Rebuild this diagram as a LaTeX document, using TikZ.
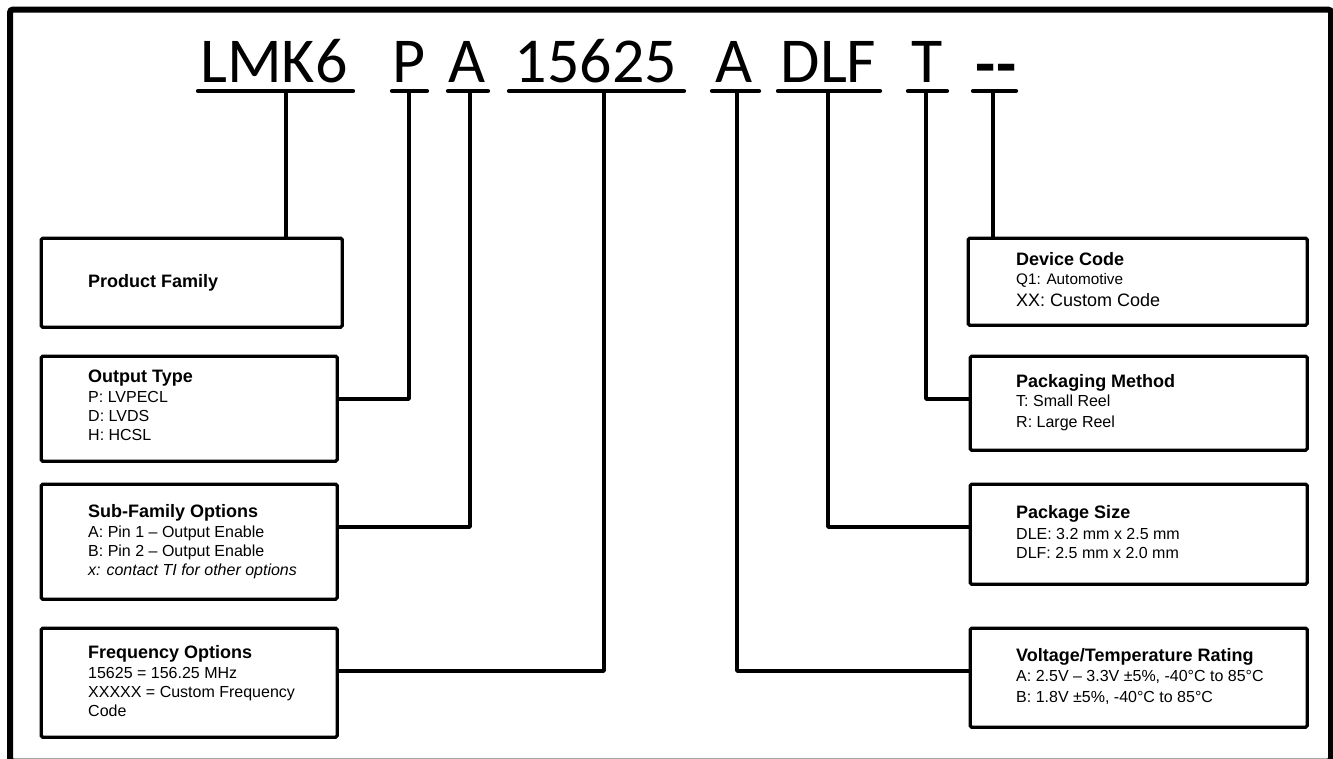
\documentclass[tikz,border=0pt]{standalone}
\usepackage{fontspec}
\setmainfont{Liberation Sans}
\newfontfamily\codefont{Carlito}
\begin{document}
\begin{tikzpicture}[x=1pt,y=-1pt,
  box/.style={draw, line width=3.2pt, rounded corners=1.5pt, inner sep=0pt, anchor=north west},
  conn/.style={line width=3.8pt, line join=round},
  uline/.style={line width=4.2pt, line cap=round},
  code/.style={font=\codefont\fontsize{64}{77}\selectfont, inner sep=0pt, anchor=base},
  ttl/.style={font=\bfseries\fontsize{18}{21}\selectfont, inner sep=0pt, anchor=base west},
  txt/.style={font=\fontsize{16}{19}\selectfont, inner sep=0pt, anchor=base west}]
\clip (0,0) rectangle (1333,758);
\useasboundingbox (0,0) rectangle (1333,758);
% frame
\draw[line width=6pt, rounded corners=3pt] (10,9.5) rectangle (1331,761.5);
% code
\node[code] (cL) at (274,82) {LMK6};
\node[code] (cP) at (409,82) {P};
\node[code] (cA) at (467.5,82) {A};
\node[code] (cF) at (596,82) {15625};
\node[code] (cV) at (734.5,82) {A};
\node[code] (cS) at (828.5,82) {DLF};
\node[code] (cT) at (927,82) {T};
\node[code, font=\codefont\bfseries\fontsize{66}{78}\selectfont] (cD) at (996,86) {-{}-};
% underlines
\draw[uline] (198,91) -- (353,91);
\draw[uline] (392,91) -- (427,91);
\draw[uline] (448,91) -- (488,91);
\draw[uline] (509,91) -- (684,91);
\draw[uline] (712,91) -- (759,91);
\draw[uline] (778,91) -- (880,91);
\draw[uline] (908,91) -- (947,91);
\draw[uline] (973,91) -- (1016,91);
\coordinate (uL) at (286,91);
\coordinate (uP) at (409,91);
\coordinate (uA) at (470,91);
\coordinate (uF) at (604,91);
\coordinate (uV) at (737,91);
\coordinate (uS) at (828,91);
\coordinate (uT) at (926,91);
\coordinate (uD) at (993,91);
% boxes
\node[box, minimum width=301pt, minimum height=89pt] (pf) at (39.6,236.6) {};
\node[box, minimum width=296pt, minimum height=105pt] (ot) at (39.6,354.6) {};
\node[box, minimum width=296pt, minimum height=115pt] (sf) at (39.6,482.6) {};
\node[box, minimum width=296pt, minimum height=109pt] (fo) at (39.6,626.6) {};
\node[box, minimum width=339pt, minimum height=87pt] (dc) at (966.6,236.6) {};
\node[box, minimum width=337pt, minimum height=94pt] (pm) at (968.6,354.6) {};
\node[box, minimum width=337pt, minimum height=100pt] (ps) at (968.6,482.6) {};
\node[box, minimum width=337pt, minimum height=99pt] (vt) at (968.6,626.6) {};
% connectors
\draw[conn] (uL) -- (uL |- pf.north);
\draw[conn] (uP) |- (ot.east |- 0,399);
\draw[conn] (uA) |- (sf.east |- 0,527);
\draw[conn] (uF) |- (fo.east |- 0,671);
\draw[conn] (uV) |- (vt.west |- 0,671);
\draw[conn] (uS) |- (ps.west |- 0,527);
\draw[conn] (uT) |- (pm.west |- 0,399);
\draw[conn] (uD) -- (uD |- dc.north);
% left texts
\node[ttl] (t1) at (88,287) {Product Family};
\node[ttl] (t2) at (88,382) {Output Type};
\node[txt] (t2a) at (88,402) {P: LVPECL};
\node[txt] (t2b) at (88,421) {D: LVDS};
\node[txt] (t2c) at (88,440) {H: HCSL};
\node[ttl] (t3) at (88,517) {Sub-Family Options};
\node[txt] (t3a) at (88,537) {A: Pin 1 – Output Enable};
\node[txt] (t3b) at (88,556) {B: Pin 2 – Output Enable};
\node[txt] (t3c) at (88,575) {\itshape x: contact TI for other options};
\node[ttl] (t4) at (88,658) {Frequency Options};
\node[txt] (t4a) at (88,678) {15625 = 156.25 MHz};
\node[txt] (t4b) at (88,697) {XXXXX = Custom Frequency};
\node[txt] (t4c) at (88,716) {Code};
% right texts
\node[ttl] (r1) at (1016,265) {Device Code};
\node[txt, font=\fontsize{15.3}{18}\selectfont] (r1a) at (1016,284) {Q1: Automotive};
\node[txt, font=\fontsize{18}{21}\selectfont] (r1b) at (1016,306) {XX: Custom Code};
\node[ttl] (r2) at (1016,387) {Packaging Method};
\node[txt] (r2a) at (1016,406) {T: Small Reel};
\node[txt] (r2b) at (1016,427) {R: Large Reel};
\node[ttl] (r3) at (1016,518) {Package Size};
\node[txt] (r3a) at (1016,539) {DLE: 3.2 mm x 2.5 mm};
\node[txt] (r3b) at (1016,558) {DLF: 2.5 mm x 2.0 mm};
\node[ttl] (r4) at (1016,661) {Voltage/Temperature Rating};
\node[txt] (r4a) at (1016,681) {A: 2.5V – 3.3V ±5\%, -40°C to 85°C};
\node[txt] (r4b) at (1016,702) {B: 1.8V ±5\%, -40°C to 85°C};
\end{tikzpicture}
\end{document}
